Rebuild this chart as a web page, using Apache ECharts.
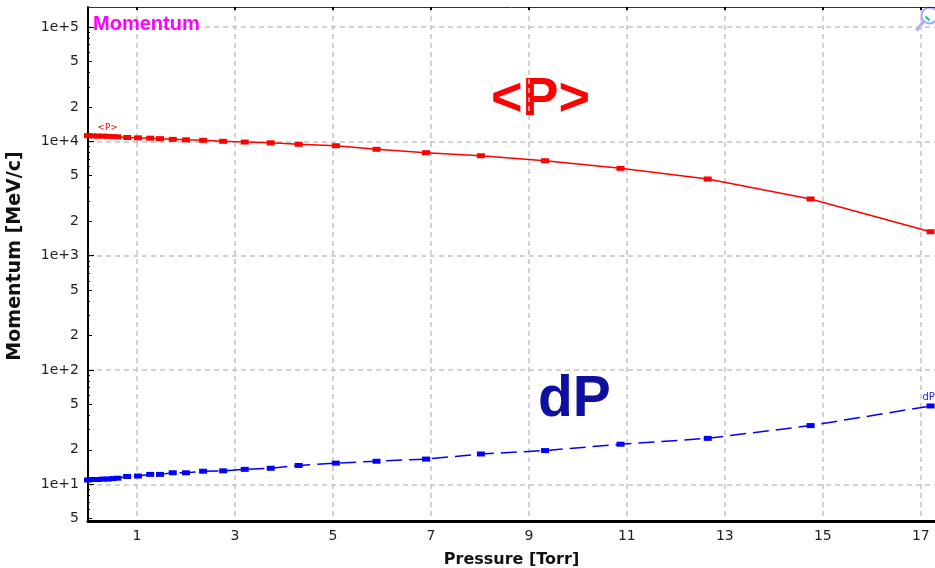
<!DOCTYPE html>
<html>
<head>
<meta charset="utf-8">
<title>Momentum</title>
<script src="https://cdn.jsdelivr.net/npm/echarts@6/dist/echarts.min.js"></script>
<style>
  html, body { margin: 0; padding: 0; background: #fff; }
  #chart { width: 935px; height: 568px; }
</style>
</head>
<body>
<div id="chart"></div>
<script>
// Pressure sample points [Torr]
const pressure = [0, 0.1, 0.2, 0.3, 0.4, 0.5, 0.6, 0.8, 1.02, 1.27, 1.47, 1.73, 2.0, 2.35, 2.76,
                  3.2, 3.73, 4.3, 5.06, 5.89, 6.9, 8.02, 9.33, 10.87, 12.65, 14.75, 17.2];
// Mean momentum <P> [MeV/c]
const meanP = [11200, 11150, 11100, 11100, 11050, 11000, 10950, 10800, 10720, 10650, 10550, 10400, 10300, 10200, 10000,
               9850, 9700, 9420, 9150, 8510, 7950, 7480, 6760, 5800, 4680, 3130, 1618];
// Momentum spread dP [MeV/c]
const spreadP = [10.9, 11.0, 11.0, 11.1, 11.1, 11.2, 11.3, 11.7, 11.8, 12.2, 12.2, 12.6, 12.6, 13.0, 13.1,
                 13.5, 13.8, 14.6, 15.3, 15.9, 16.6, 18.4, 19.7, 22.4, 25.2, 32.6, 48.4];

// Axis ticks
const xTicks = [1, 3, 5, 7, 9, 11, 13, 15, 17];
const yDecades = [10, 100, 1000, 10000, 100000];
const yLabelTicks = [5, 10, 20, 50, 100, 200, 500, 1000, 2000, 5000, 10000, 20000, 50000, 100000];
const yMidTicks = [5, 20, 50, 200, 500, 2000, 5000, 20000, 50000];
const yMinorTicks = [6, 7, 8, 9, 30, 40, 60, 70, 80, 90, 300, 400, 600, 700, 800, 900,
                     3000, 4000, 6000, 7000, 8000, 9000, 30000, 40000, 60000, 70000, 80000, 90000];

const X_MIN = 0, X_MAX = 17.29;
const Y_MIN = 4.77, Y_MAX = 149600;

const FONT = 'DejaVu Sans';
const gridLine = { show: true, lineStyle: { color: '#c4c4c4', width: 1.5, type: [5, 4] } };

function logLabel(v) {
  const e = Math.round(Math.log10(v));
  if (Math.abs(v - Math.pow(10, e)) < 1e-6 * v) return '1e+' + e;
  return String(Math.round(v / Math.pow(10, Math.floor(Math.log10(v) + 1e-9))));
}

const zip = (xs, ys) => xs.map((x, i) => [x, ys[i]]);

const pData = zip(pressure, meanP).map((d, i) =>
  i === 4 ? { value: d, label: { show: true, formatter: '<P>', position: 'top', distance: 2,
                                 color: '#ff0000', fontSize: 9, fontFamily: FONT } } : d);
const dpData = zip(pressure, spreadP).map((d, i) =>
  i === pressure.length - 1 ? { value: d, label: { show: true, formatter: 'dP', position: 'top', distance: 1,
                                 offset: [-2, 0], color: '#2020ff', fontSize: 10, fontFamily: FONT } } : d);

const chart = echarts.init(document.getElementById('chart'), null, { renderer: 'canvas' });

const baseY = { type: 'log', logBase: 10, min: Y_MIN, max: Y_MAX, gridIndex: 0, position: 'left', offset: 0 };

chart.setOption({
  animation: false,
  backgroundColor: '#ffffff',
  title: {
    text: 'Momentum', left: 88, top: 9,
    textStyle: { color: '#ff00ff', fontSize: 20, fontWeight: 'bold', fontFamily: 'Liberation Sans' }
  },
  grid: { left: 88, right: 0, top: 7, bottom: 47, containLabel: false, outerBoundsMode: 'none' },
  xAxis: [
    {
      type: 'value', min: X_MIN, max: X_MAX, position: 'bottom',
      name: 'Pressure [Torr]', nameLocation: 'middle', nameGap: 31,
      nameTextStyle: { color: '#111', fontSize: 16, fontWeight: 'bold', fontFamily: FONT },
      axisLine: { show: true, onZero: false, lineStyle: { color: '#000', width: 3 } },
      axisTick: { show: false, customValues: xTicks },
      axisLabel: { customValues: xTicks, color: '#222', fontSize: 14, fontFamily: FONT, margin: 8 },
      splitLine: gridLine
    },
    {
      type: 'value', min: X_MIN, max: X_MAX, position: 'top',
      axisLine: { show: true, onZero: false, lineStyle: { color: '#333', width: 1 } },
      axisTick: { show: true, inside: true, length: 3, customValues: xTicks, lineStyle: { color: '#000', width: 2 } },
      axisLabel: { show: false },
      splitLine: { show: false }
    }
  ],
  yAxis: [
    Object.assign({}, baseY, {
      name: 'Momentum [MeV/c]', nameLocation: 'middle', nameGap: 63, nameRotate: 90,
      nameTextStyle: { color: '#111', fontSize: 19, fontWeight: 'bold', fontFamily: FONT, padding: [0, 0, 0, 16] },
      axisLine: { show: true, lineStyle: { color: '#000', width: 2 } },
      axisTick: { show: true, inside: true, length: 6, customValues: yDecades, lineStyle: { color: '#000', width: 1 } },
      axisLabel: { customValues: yLabelTicks, formatter: logLabel, color: '#222', fontSize: 14, fontFamily: FONT, margin: 9 },
      splitLine: gridLine
    }),
    Object.assign({}, baseY, {
      axisLine: { show: false },
      axisTick: { show: true, inside: true, length: 4, customValues: yMidTicks, lineStyle: { color: '#000', width: 1 } },
      axisLabel: { show: false },
      splitLine: { show: false }
    }),
    Object.assign({}, baseY, {
      axisLine: { show: false },
      axisTick: { show: true, inside: true, length: 2, customValues: yMinorTicks, lineStyle: { color: '#000', width: 1 } },
      axisLabel: { show: false },
      splitLine: { show: false }
    })
  ],
  series: [
    {
      name: '<P>', type: 'line', xAxisIndex: 0, yAxisIndex: 0,
      data: pData, symbol: 'rect', symbolSize: [8, 5], showAllSymbol: true,
      lineStyle: { color: '#ff0000', width: 1.5 },
      itemStyle: { color: '#ff0000' }
    },
    {
      name: 'dP', type: 'line', xAxisIndex: 0, yAxisIndex: 0,
      data: dpData, symbol: 'rect', symbolSize: [8, 5], showAllSymbol: true,
      lineStyle: { color: '#0000ff', width: 1.5, type: [16, 7] },
      itemStyle: { color: '#0000ff' }
    }
  ],
  graphic: [
    {
      type: 'text', left: 491, top: 73,
      style: { text: '<P>', fill: '#ff0000', font: 'bold 54px "Liberation Sans"' }
    },
    {
      type: 'text', left: 538, top: 372,
      style: { text: 'dP', fill: '#1010a0', font: 'bold 57px "Liberation Sans"' }
    },
    {
      type: 'group', left: 914, top: 5,
      children: [
        { type: 'circle', shape: { cx: 17, cy: 11, r: 8 }, style: { fill: 'none', stroke: '#a8a8ff', lineWidth: 2 } },
        { type: 'line', shape: { x1: 11, y1: 17, x2: 4, y2: 26 }, style: { stroke: '#a8a8ff', lineWidth: 3 } },
        { type: 'line', shape: { x1: 13, y1: 12, x2: 17, y2: 16 }, style: { stroke: '#20c080', lineWidth: 2 } }
      ]
    }
  ]
});
</script>
</body>
</html>
